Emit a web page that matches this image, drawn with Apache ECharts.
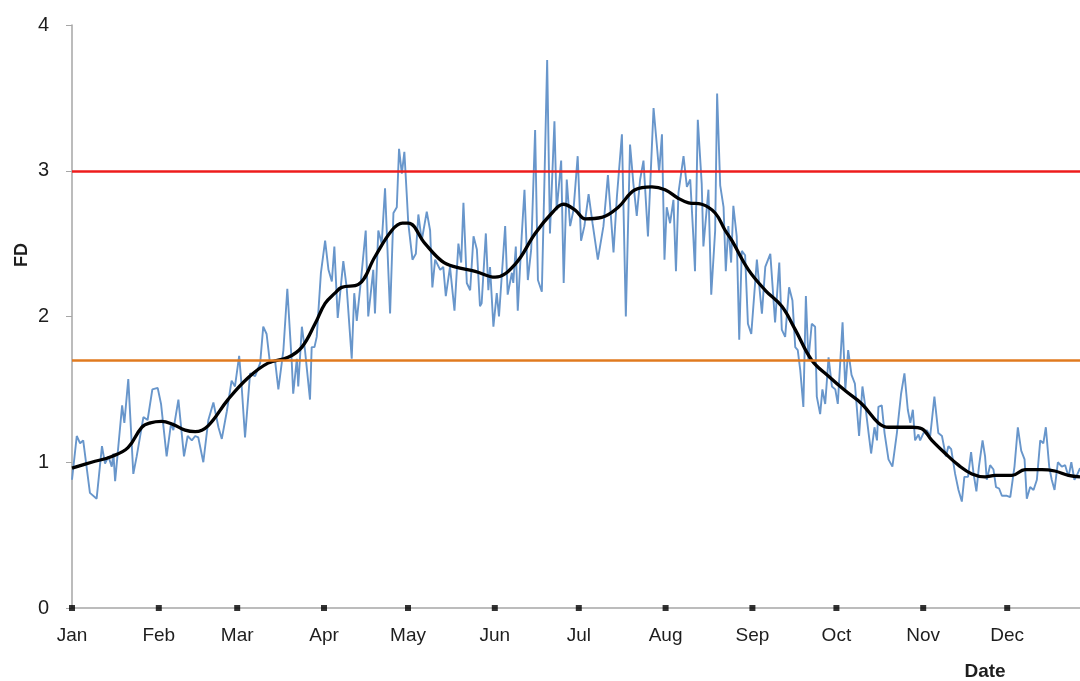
<!DOCTYPE html>
<html>
<head>
<meta charset="utf-8">
<title>FD by date</title>
<script src="https://cdn.jsdelivr.net/npm/echarts@6.0.0/dist/echarts.min.js"></script>
<style>
html, body { margin: 0; padding: 0; background: #fff; }
#chart { width: 1080px; height: 681px; }
</style>
</head>
<body>
<div id="chart"></div>
<script>
// day of year where each month starts
const monthDays = [0, 31, 59, 90, 120, 151, 181, 212, 243, 273, 304, 334];
const monthNames = ['Jan', 'Feb', 'Mar', 'Apr', 'May', 'Jun', 'Jul', 'Aug', 'Sep', 'Oct', 'Nov', 'Dec'];

// threshold lines
const upperLimit = 3;
const lowerLimit = 1.7;

// daily FD (blue)
const dailyDays = [
  0, 1.7, 2.9, 4.0, 6.4, 8.8, 10.7, 11.8, 13.0, 14.2, 14.8, 15.4, 17.9, 18.7, 20.1, 21.9, 23.1, 25.5, 27.0, 28.7,
  30.6, 31.8, 33.8, 35.4, 36.2, 38.0, 40.0, 41.3, 42.8, 44.0, 45.1, 46.9, 48.7, 50.5, 52.3, 53.5, 55.3, 57.0, 58.2, 59.7,
  60.6, 61.8, 63.6, 65.4, 67.2, 68.3, 69.5, 70.7, 72.5, 73.7, 75.5, 76.9, 78.5, 79.0, 80.3, 80.8, 82.1, 83.2, 85.0, 85.6,
  86.6, 87.4, 88.9, 90.4, 91.6, 92.8, 93.7, 94.9, 96.9, 98.1, 99.9, 100.8, 101.7, 103.2, 104.9, 105.8, 107.6, 108.2, 109.4, 110.6,
  111.8, 113.0, 113.6, 114.8, 116.0, 116.8, 117.8, 118.7, 119.6, 120.1, 121.6, 122.8, 123.7, 124.9, 126.7, 127.9, 128.7, 129.7, 131.5, 132.6,
  133.5, 135.0, 136.6, 138.0, 139.0, 139.8, 141.0, 142.2, 143.4, 144.6, 145.7, 146.3, 147.8, 148.7, 149.3, 150.5, 151.7, 152.5, 154.7, 155.6,
  157.1, 157.6, 158.5, 159.2, 160.6, 161.6, 162.8, 164.0, 165.4, 166.4, 167.8, 168.7, 169.7, 170.7, 172.3, 173.1, 174.7, 175.6, 176.7, 177.9,
  179.1, 180.6, 181.8, 183.0, 184.5, 185.9, 187.8, 189.8, 191.4, 193.4, 194.6, 196.4, 197.8, 199.3, 200.5, 201.7, 202.9, 204.1, 205.7, 207.7,
  208.9, 209.7, 210.7, 211.6, 212.4, 213.6, 214.8, 215.7, 216.6, 218.4, 219.6, 220.8, 221.9, 222.5, 223.5, 224.9, 225.5, 227.3, 228.3, 229.7,
  230.4, 231.5, 232.7, 233.5, 234.4, 235.4, 236.2, 237.4, 238.3, 239.2, 240.4, 241.4, 242.6, 244.6, 245.8, 246.4, 247.6, 249.4, 251.1, 252.6,
  253.5, 254.7, 256.1, 257.3, 258.3, 259.2, 260.1, 261.2, 262.1, 263.0, 264.2, 265.4, 266.0, 267.2, 268.0, 269.0, 270.2, 271.4, 272.6, 273.5,
  275.2, 276.2, 277.2, 278.4, 279.6, 281.1, 282.3, 283.5, 284.5, 285.4, 286.6, 287.5, 288.0, 289.2, 290.2, 291.6, 293.0, 294.6, 296.1, 297.3,
  298.5, 299.4, 300.3, 301.1, 302.3, 302.9, 304.1, 305.3, 306.5, 308.0, 309.4, 310.7, 311.2, 312.1, 313.0, 314.0, 315.4, 316.6, 317.8, 318.7,
  320.0, 321.1, 322.0, 323.0, 323.9, 325.2, 326.1, 326.7, 327.9, 329.1, 330.0, 331.1, 332.1, 333.9, 335.1, 336.6, 337.8, 339.0, 340.2, 341.0,
  342.2, 343.4, 344.6, 345.8, 346.9, 347.8, 349.0, 349.9, 350.9, 352.1, 353.5, 354.7, 355.9, 356.9, 358.0, 358.9, 360.0
];
const dailyValues = [
  0.88, 1.18, 1.13, 1.15, 0.79, 0.75, 1.11, 0.99, 1.04, 0.97, 1.06, 0.87, 1.39, 1.27, 1.57, 0.92, 1.04, 1.31, 1.29, 1.50,
  1.51, 1.40, 1.04, 1.27, 1.22, 1.43, 1.04, 1.18, 1.15, 1.18, 1.17, 1.00, 1.29, 1.41, 1.24, 1.16, 1.35, 1.56, 1.52, 1.73,
  1.52, 1.17, 1.61, 1.59, 1.68, 1.93, 1.88, 1.68, 1.70, 1.50, 1.77, 2.19, 1.68, 1.47, 1.71, 1.52, 1.93, 1.77, 1.43, 1.79,
  1.79, 1.86, 2.30, 2.52, 2.32, 2.24, 2.48, 1.99, 2.38, 2.20, 1.71, 2.16, 1.97, 2.25, 2.59, 2.00, 2.32, 2.02, 2.59, 2.50,
  2.88, 2.30, 2.02, 2.71, 2.75, 3.15, 2.98, 3.13, 2.82, 2.64, 2.39, 2.43, 2.70, 2.52, 2.72, 2.59, 2.20, 2.39, 2.32, 2.34,
  2.14, 2.34, 2.04, 2.50, 2.37, 2.78, 2.23, 2.18, 2.55, 2.46, 2.07, 2.09, 2.57, 2.18, 2.34, 1.93, 2.16, 2.00, 2.62, 2.15,
  2.30, 2.23, 2.48, 2.04, 2.55, 2.87, 2.25, 2.46, 3.28, 2.25, 2.17, 2.91, 3.76, 2.57, 3.34, 2.73, 3.07, 2.23, 2.94, 2.62,
  2.73, 3.10, 2.52, 2.62, 2.84, 2.64, 2.39, 2.62, 2.97, 2.44, 2.82, 3.25, 2.00, 3.18, 2.91, 2.69, 2.94, 3.07, 2.55, 3.43,
  3.17, 2.99, 3.25, 2.39, 2.75, 2.64, 2.80, 2.31, 2.85, 3.10, 2.89, 2.94, 2.55, 2.31, 3.35, 2.91, 2.48, 2.87, 2.15, 2.59,
  3.53, 2.90, 2.75, 2.31, 2.62, 2.37, 2.76, 2.55, 1.84, 2.45, 2.42, 1.95, 1.88, 2.39, 2.14, 2.02, 2.34, 2.43, 1.96, 2.37,
  1.91, 1.86, 2.20, 2.11, 1.79, 1.77, 1.63, 1.38, 2.14, 1.70, 1.95, 1.93, 1.45, 1.33, 1.50, 1.40, 1.72, 1.52, 1.50, 1.40,
  1.96, 1.50, 1.77, 1.60, 1.54, 1.18, 1.52, 1.36, 1.20, 1.06, 1.24, 1.15, 1.38, 1.39, 1.20, 1.02, 0.97, 1.20, 1.47, 1.61,
  1.36, 1.27, 1.36, 1.15, 1.19, 1.15, 1.20, 1.22, 1.18, 1.45, 1.20, 1.18, 1.19, 1.04, 1.11, 1.09, 0.92, 0.81, 0.73, 0.90,
  0.90, 1.07, 0.92, 0.80, 0.97, 1.15, 1.04, 0.88, 0.98, 0.95, 0.83, 0.82, 0.77, 0.77, 0.76, 0.97, 1.24, 1.08, 1.02, 0.75,
  0.83, 0.81, 0.88, 1.15, 1.13, 1.24, 0.97, 0.88, 0.81, 1.00, 0.97, 0.98, 0.90, 1.00, 0.88, 0.91, 0.96
];

// smoothed FD (black)
const smoothDays = [
  0, 7, 14.2, 20, 24.9, 28, 32.0, 36, 40.4, 44, 48.6, 55.7, 62.9, 70.0, 77.2, 82.1, 86.8, 90.4, 93.9, 96.3,
  102.3, 108.2, 114.2, 118, 120.1, 126.1, 132.1, 136.8, 144.0, 151.1, 158.3, 165.4, 171.4, 175.5, 179.7, 183.3, 189.2, 195.1, 201.1, 207.1,
  211.8, 216.6, 220.2, 224.9, 229.7, 233.3, 235.7, 241.6, 247.6, 253.5, 258.3, 264.2, 270.2, 276.2, 282.1, 288.0, 291.6, 300.0, 303.5, 307.1,
  311.9, 316.6, 321.4, 326.1, 329.7, 335.7, 340.4, 346.4, 351, 355.9, 360
];
const smoothValues = [
  0.96, 1.00, 1.04, 1.10, 1.24, 1.27, 1.28, 1.26, 1.22, 1.21, 1.25, 1.43, 1.58, 1.68, 1.72, 1.79, 1.95, 2.09, 2.16, 2.20,
  2.22, 2.41, 2.59, 2.64, 2.64, 2.50, 2.38, 2.34, 2.31, 2.27, 2.36, 2.57, 2.71, 2.77, 2.73, 2.67, 2.68, 2.75, 2.87, 2.89,
  2.87, 2.81, 2.78, 2.77, 2.71, 2.59, 2.52, 2.32, 2.18, 2.07, 1.91, 1.70, 1.59, 1.49, 1.40, 1.27, 1.24, 1.24, 1.23, 1.15,
  1.06, 0.98, 0.92, 0.90, 0.91, 0.91, 0.95, 0.95, 0.94, 0.91, 0.90
];

const zip = (xs, ys) => xs.map((x, i) => [x, ys[i]]);
const axisGray = '#a6a6a6';
const textColor = '#1e1e1e';
const fontFam = '"Liberation Sans", Arial, sans-serif';

let myChart = echarts.init(document.getElementById('chart'));

let option = {
  animation: false,
  grid: {
    left: 72,
    right: 0,
    top: 25,
    bottom: 73
  },
  xAxis: {
    type: 'value',
    min: 0,
    max: 360,
    axisLine: { show: true, lineStyle: { color: axisGray, width: 1.5 } },
    axisTick: { show: false },
    splitLine: { show: false },
    axisLabel: {
      customValues: monthDays,
      formatter: v => monthNames[monthDays.indexOf(v)],
      color: textColor,
      fontSize: 19,
      fontFamily: fontFam,
      margin: 18
    }
  },
  yAxis: {
    type: 'value',
    min: 0,
    max: 4,
    interval: 1,
    axisLine: { show: true, lineStyle: { color: axisGray, width: 1.5 } },
    axisTick: { show: true, length: 6, lineStyle: { color: axisGray } },
    splitLine: { show: false },
    axisLabel: {
      color: textColor,
      fontSize: 20,
      fontFamily: fontFam,
      margin: 23
    }
  },
  graphic: [
    {
      type: 'text',
      x: 22,
      y: 255,
      rotation: Math.PI / 2,
      style: {
        text: 'FD',
        font: 'bold 18px ' + fontFam,
        fill: textColor,
        textAlign: 'center',
        textVerticalAlign: 'middle'
      }
    },
    {
      type: 'text',
      x: 985,
      y: 672,
      style: {
        text: 'Date',
        font: 'bold 19px ' + fontFam,
        fill: textColor,
        textAlign: 'center',
        textVerticalAlign: 'middle'
      }
    }
  ],
  series: [
    {
      name: 'daily',
      type: 'line',
      data: zip(dailyDays, dailyValues),
      showSymbol: false,
      z: 2,
      lineStyle: { color: '#6896cb', width: 1.9 }
    },
    {
      name: 'limits',
      type: 'line',
      data: [],
      z: 3,
      markLine: {
        silent: true,
        symbol: 'none',
        label: { show: false },
        data: [
          { yAxis: upperLimit, lineStyle: { color: '#ee1c1c', width: 2.5, type: 'solid' } },
          { yAxis: lowerLimit, lineStyle: { color: '#e07a1f', width: 2.5, type: 'solid' } }
        ]
      }
    },
    {
      name: 'smooth',
      type: 'line',
      data: zip(smoothDays, smoothValues),
      smooth: 0.4,
      showSymbol: false,
      z: 4,
      lineStyle: { color: '#000', width: 3.3 }
    },
    {
      // square markers on the date axis
      name: 'months',
      type: 'scatter',
      data: monthDays.map(d => [d, 0]),
      symbol: 'rect',
      symbolSize: 6,
      clip: false,
      z: 5,
      itemStyle: { color: '#000' }
    }
  ]
};

myChart.setOption(option);
</script>
</body>
</html>
